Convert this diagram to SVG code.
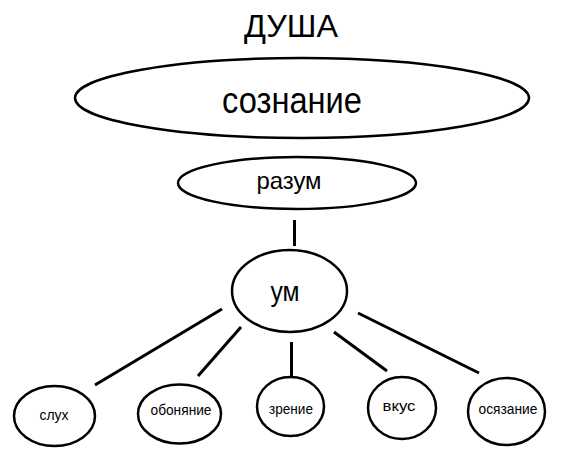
<svg xmlns="http://www.w3.org/2000/svg" width="561" height="456" viewBox="0 0 561 456">
<style>
  .node { fill: #fff; stroke: #000; stroke-width: 2.5; }
  .conn { stroke: #000; stroke-width: 3; fill: none; }
  text { font-family: "Liberation Sans", Arial, sans-serif; fill: #000; text-anchor: middle; }
  .small { font-size: 15px; }
</style>
<rect width="561" height="456" fill="#fff"/>
<g id="title"><text x="291" y="37" font-size="31" textLength="94" lengthAdjust="spacingAndGlyphs">ДУША</text></g>
<g id="connectors">
  <line class="conn" x1="294.5" y1="220" x2="294.5" y2="246"/>
  <line class="conn" x1="222" y1="309" x2="95" y2="385"/>
  <line class="conn" x1="241" y1="327" x2="198" y2="376"/>
  <line class="conn" x1="291.5" y1="342" x2="291.5" y2="378"/>
  <line class="conn" x1="334" y1="332" x2="387" y2="371"/>
  <line class="conn" x1="358" y1="313" x2="479" y2="373"/>
</g>
<g id="soznanie">
  <ellipse class="node" cx="302" cy="98" rx="227" ry="40"/>
  <text x="292" y="113" font-size="36" textLength="140" lengthAdjust="spacingAndGlyphs">сознание</text>
</g>
<g id="razum">
  <ellipse class="node" cx="297" cy="183" rx="119" ry="26"/>
  <text x="289" y="189" font-size="24" textLength="65" lengthAdjust="spacingAndGlyphs">разум</text>
</g>
<g id="um">
  <ellipse class="node" cx="289.5" cy="291" rx="57.5" ry="41"/>
  <text x="285" y="301" font-size="27" textLength="29" lengthAdjust="spacingAndGlyphs">ум</text>
</g>
<g id="sluh">
  <ellipse class="node" cx="54.5" cy="416" rx="40.5" ry="30"/>
  <text class="small" x="54" y="420" textLength="29" lengthAdjust="spacingAndGlyphs">слух</text>
</g>
<g id="obonyanie">
  <ellipse class="node" cx="179.5" cy="414" rx="41.5" ry="29.5"/>
  <text class="small" x="181" y="415" textLength="61" lengthAdjust="spacingAndGlyphs">обоняние</text>
</g>
<g id="zrenie">
  <ellipse class="node" cx="290.5" cy="406.5" rx="33.5" ry="29.5"/>
  <text class="small" x="291" y="414" textLength="44" lengthAdjust="spacingAndGlyphs">зрение</text>
</g>
<g id="vkus">
  <ellipse class="node" cx="402" cy="408" rx="34" ry="31"/>
  <text class="small" x="399" y="411" textLength="33" lengthAdjust="spacingAndGlyphs">вкус</text>
</g>
<g id="osyazanie">
  <ellipse class="node" cx="506.5" cy="411.5" rx="38.5" ry="33.5"/>
  <text class="small" x="508" y="414" textLength="59" lengthAdjust="spacingAndGlyphs">осязание</text>
</g>
</svg>
